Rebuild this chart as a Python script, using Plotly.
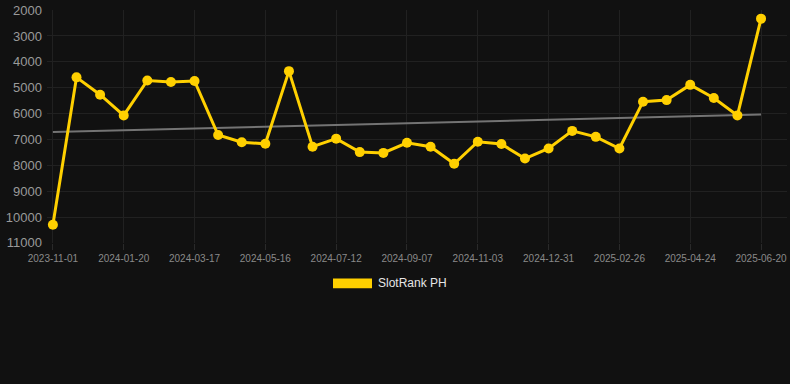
import numpy as np
import plotly.graph_objects as go

dates = [
    "2023-11-01", "2023-11-28", "2023-12-24", "2024-01-20", "2024-02-08", "2024-02-27",
    "2024-03-17", "2024-04-06", "2024-04-26", "2024-05-16", "2024-06-04", "2024-06-23",
    "2024-07-12", "2024-07-31", "2024-08-19", "2024-09-07", "2024-09-26", "2024-10-15",
    "2024-11-03", "2024-11-22", "2024-12-12", "2024-12-31", "2025-01-19", "2025-02-07",
    "2025-02-26", "2025-03-17", "2025-04-05", "2025-04-24", "2025-05-13", "2025-06-01",
    "2025-06-20",
]
ranks = [
    10300, 4600, 5270, 6070, 4720, 4780, 4740, 6830, 7110, 7170, 4360, 7280,
    6970, 7490, 7520, 7130, 7280, 7940, 7090, 7180, 7740, 7350, 6670, 6900,
    7350, 5540, 5480, 4890, 5400, 6070, 2330,
]
tick_labels = dates[::3]
y_ticks = [2000, 3000, 4000, 5000, 6000, 7000, 8000, 9000, 10000, 11000]
y_tick_text = [str(v) for v in y_ticks]
series_name = "SlotRank PH"

idx = np.arange(len(ranks))
slope, intercept = np.polyfit(idx, ranks, 1)
trend = slope * idx + intercept

fig = go.Figure()
fig.add_trace(go.Scatter(
    x=dates, y=trend, mode="lines",
    line=dict(color="#747474", width=2),
    hoverinfo="skip", showlegend=False,
))
fig.add_trace(go.Scatter(
    x=dates, y=ranks, mode="lines+markers", name=series_name,
    line=dict(color="#FFD000", width=3),
    marker=dict(color="#FFD000", size=10),
    showlegend=False,
))

fig.add_shape(type="rect", xref="paper", yref="paper",
              x0=(333 - 47) / 740, x1=(372 - 47) / 740,
              y0=-(279 - 243) / 237, y1=-(289 - 243) / 237,
              fillcolor="#FFD000", line=dict(width=0))
fig.add_annotation(xref="paper", yref="paper",
                   x=(376 - 47) / 740, y=-(284 - 243) / 237,
                   text=series_name, showarrow=False,
                   xanchor="left", yanchor="middle",
                   font=dict(color="#e6e6e6", size=12, family="Liberation Sans, Arial, sans-serif"))

fig.update_layout(
    width=790, height=384,
    paper_bgcolor="#111111", plot_bgcolor="#111111",
    margin=dict(l=47, r=3, t=6, b=141),
    font=dict(family="Liberation Sans, Arial, sans-serif"),
    showlegend=False,
)
fig.update_xaxes(
    type="category",
    range=[-0.25, len(dates) - 1 + 1.1],
    tickmode="array", tickvals=tick_labels, ticktext=tick_labels,
    showgrid=True, gridcolor="#212121", gridwidth=1,
    ticks="outside", ticklen=6, tickcolor="#2a2a2a",
    tickfont=dict(color="#8a8a8a", size=10),
    zeroline=False, showline=False,
)
fig.update_yaxes(
    range=[11005, 1995],
    tickmode="array", tickvals=y_ticks, ticktext=y_tick_text,
    showgrid=True, gridcolor="#212121", gridwidth=1,
    tickfont=dict(color="#9a9a9a", size=13),
    ticks="", ticklabelstandoff=4, ticklabeloverflow="allow",
    zeroline=False, showline=False,
)

fig.write_html(
    "out.html",
    config={"displayModeBar": False},
    post_script="document.body.style.margin='0';document.body.style.background='#111111';",
)
